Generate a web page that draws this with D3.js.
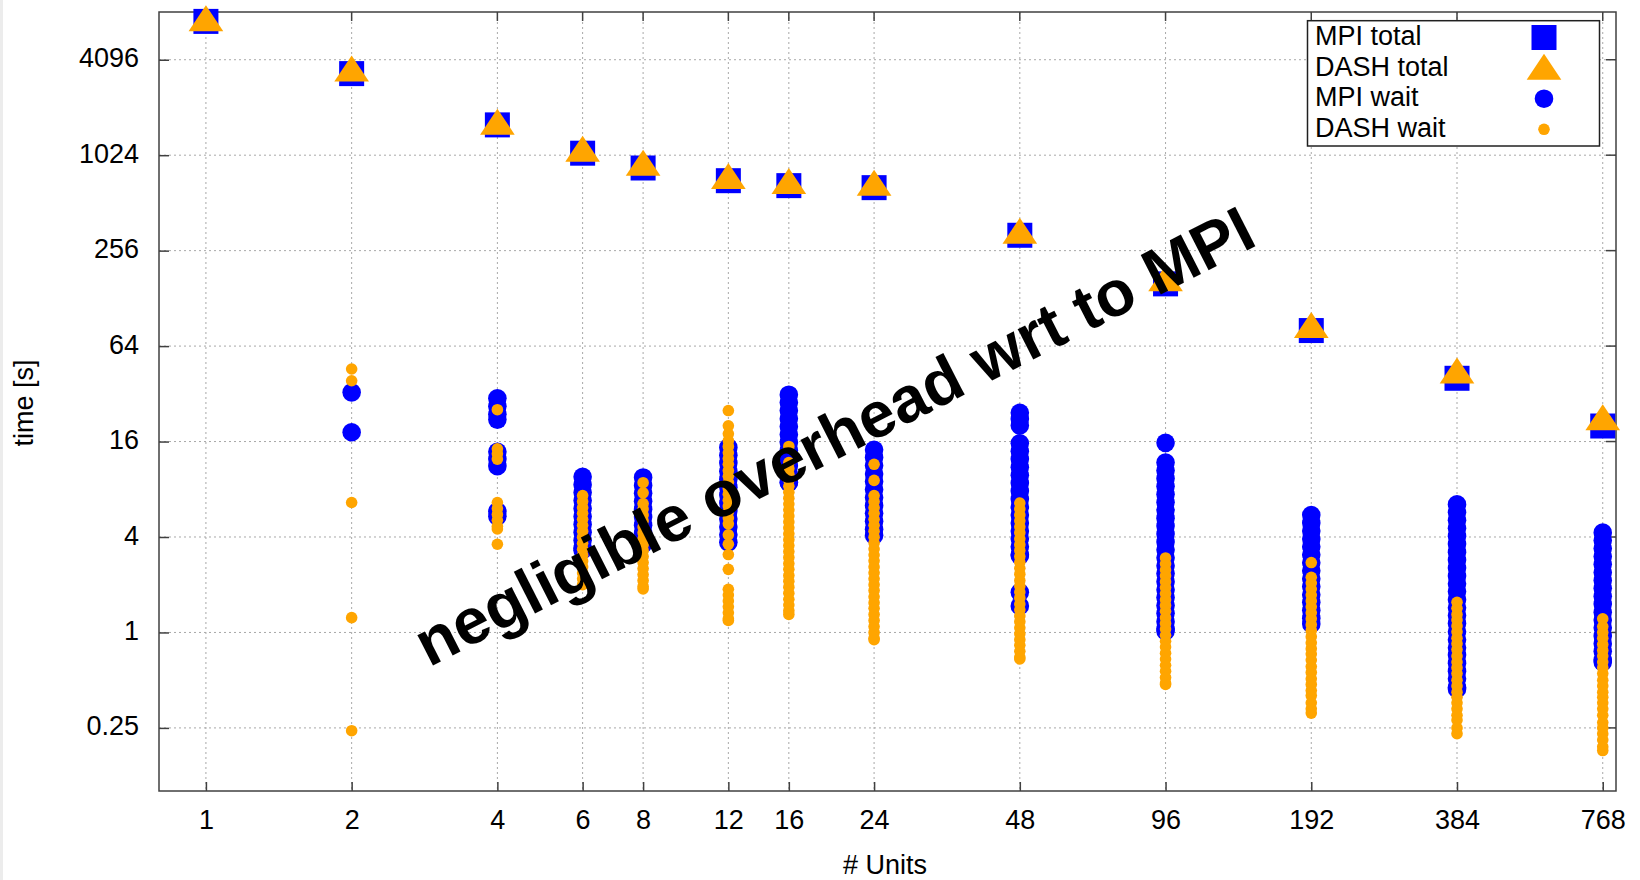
<!DOCTYPE html>
<html>
<head>
<meta charset="utf-8">
<script src="https://cdn.jsdelivr.net/npm/d3@7"></script>
<style>
  html, body { margin: 0; padding: 0; background: #fff; }
  svg { display: block; font-family: "Liberation Sans", Arial, sans-serif; }
</style>
</head>
<body>
<script>
// ---------------- data ----------------
const units = [1, 2, 4, 6, 8, 12, 16, 24, 48, 96, 192, 384, 768];
const xTickLabels = ["1", "2", "4", "6", "8", "12", "16", "24", "48", "96", "192", "384", "768"];
const yTicks = [0.25, 1, 4, 16, 64, 256, 1024, 4096];
const yTickLabels = ["0.25", "1", "4", "16", "64", "256", "1024", "4096"];

const mpiTotal  = [7147, 3348, 1590, 1054, 850, 707, 658, 639, 320, 158, 80.2, 40.1, 20.05];
const dashTotal = [7024, 3381, 1565, 1057, 863, 711, 661, 645, 321, 161, 81.6, 42.2, 21.4];

// wait times of the individual units (one list per unit count)
const mpiWait = [
  [],
  [32.7, 18.3],
  [30, 26.7, 23.8, 22, 13.8, 12.4, 11.2, 5.8, 5.4],
  [9.6, 8.55, 7.62, 6.79, 6.05, 5.39, 4.8, 4.28, 3.81, 3.4, 3.3],
  [9.5, 8.46, 7.54, 6.72, 5.99, 5.34, 4.75, 4.24, 3.77, 3.6],
  [14.7, 13.1, 11.7, 10.4, 9.26, 8.25, 7.35, 6.55, 5.84, 5.2, 4.63, 4.13, 3.7],
  [31.6, 28.2, 25.1, 22.3, 19.9, 17.7, 15.8, 14.1, 12.5, 11.2, 9.95, 8.87, 8.8],
  [14.2, 12.7, 11.3, 10.0, 8.94, 7.97, 7.1, 6.33, 5.64, 5.02, 4.47, 4.1],
  [24.3, 22.2, 20.2, 15.6, 13.9, 12.4, 11.0, 9.8, 8.75, 7.8, 6.95, 6.19, 5.51, 4.91, 4.37, 3.9, 3.47, 3.1, 3.05, 1.79, 1.47],
  [15.7, 11.8, 10.5, 9.37, 8.35, 7.44, 6.63, 5.91, 5.26, 4.69, 4.18, 3.72, 3.32, 2.96, 2.63, 2.35, 2.09, 1.86, 1.66, 1.48, 1.32, 1.17, 1.05, 1.02],
  [5.5, 4.9, 4.37, 3.89, 3.47, 3.09, 2.75, 2.45, 2.18, 1.95, 1.73, 1.55, 1.38, 1.23, 1.13],
  [6.42, 5.72, 5.1, 4.54, 4.05, 3.61, 3.21, 2.86, 2.55, 2.27, 2.03, 1.81, 1.61, 1.43, 1.28, 1.14, 1.01, 0.9, 0.8, 0.72, 0.64, 0.57, 0.51, 0.45, 0.44],
  [4.26, 3.8, 3.38, 3.01, 2.69, 2.39, 2.13, 1.9, 1.69, 1.51, 1.34, 1.2, 1.07, 0.95, 0.85, 0.76, 0.67, 0.65]
];
const dashWait = [
  [],
  [45.9, 38.7, 6.6, 1.24, 0.24],
  [25.4, 14.4, 13.4, 12.4, 6.6, 6.05, 5.55, 5.1, 4.68, 4.5, 3.6],
  [7.3, 6.7, 6.14, 5.64, 5.17, 4.74, 4.35, 3.99, 3.65, 3.35, 3.07, 2.82, 2.59, 2.37, 2.18, 2.0],
  [8.8, 7.6, 6.5, 6.0, 5.5, 5.05, 4.63, 4.25, 3.9, 3.58, 3.28, 3.01, 2.76, 2.53, 2.32, 2.13, 1.95, 1.88],
  [25.1, 20.1, 17.9, 16.2, 14.9, 13.6, 12.5, 11.5, 10.5, 9.65, 8.85, 8.1, 7.45, 6.83, 6.27, 5.75, 5.27, 4.84,
   4.13, 3.6, 3.1, 2.5, 1.87, 1.72, 1.58, 1.45, 1.33, 1.22, 1.19],
  [14.9, 11.8, 10.8, 9.93, 9.11, 8.36, 7.67, 7.03, 6.45, 5.92, 5.43, 4.98, 4.57, 4.19, 3.85, 3.53, 3.24, 2.97, 2.72,
   2.5, 2.29, 2.1, 1.93, 1.77, 1.62, 1.49, 1.37, 1.3],
  [11.5, 9.1, 7.3, 6.7, 6.14, 5.64, 5.17, 4.74, 4.35, 3.99, 3.66, 3.36, 3.08, 2.83, 2.59, 2.38, 2.18, 2.0, 1.84,
   1.68, 1.54, 1.42, 1.3, 1.19, 1.09, 1.0, 0.92, 0.9],
  [6.55, 6.01, 5.51, 5.06, 4.64, 4.26, 3.9, 3.58, 3.29, 3.01, 2.77, 2.54, 2.33, 2.13, 1.96, 1.8, 1.65, 1.51, 1.39,
   1.27, 1.17, 1.07, 0.98, 0.9, 0.83, 0.76, 0.7, 0.68],
  [2.95, 2.71, 2.48, 2.28, 2.09, 1.92, 1.76, 1.61, 1.48, 1.36, 1.24, 1.14, 1.05, 0.96, 0.88, 0.81, 0.74, 0.68,
   0.62, 0.57, 0.52, 0.48, 0.47],
  [2.76, 2.23, 2.05, 1.88, 1.72, 1.58, 1.45, 1.33, 1.22, 1.12, 1.03, 0.94, 0.86, 0.79, 0.73, 0.67, 0.61, 0.56,
   0.51, 0.47, 0.43, 0.4, 0.36, 0.33, 0.31],
  [1.55, 1.42, 1.3, 1.2, 1.1, 1.01, 0.92, 0.85, 0.78, 0.71, 0.65, 0.6, 0.55, 0.5, 0.46, 0.42, 0.39, 0.36, 0.33,
   0.3, 0.28, 0.25, 0.23],
  [1.22, 1.09, 1.0, 0.92, 0.84, 0.77, 0.71, 0.65, 0.6, 0.55, 0.5, 0.46, 0.42, 0.39, 0.36, 0.33, 0.3, 0.27, 0.25,
   0.23, 0.21, 0.19, 0.18]
];

const seriesNames = ["MPI total", "DASH total", "MPI wait", "DASH wait"];
const BLUE = "#0000ff", ORANGE = "#ffa500";

// ---------------- layout ----------------
const W = 1640, H = 880;
const L = 159, R = 1616, T = 12, B = 791;

const svg = d3.select("body").append("svg").attr("width", W).attr("height", H);
svg.append("rect").attr("width", W).attr("height", H).attr("fill", "#fff");
svg.append("rect").attr("x", 0).attr("y", 0).attr("width", 3).attr("height", H).attr("fill", "#ececec");

const x = d3.scaleLog().base(2).domain([0.8, 818]).range([L, R]);
const y = d3.scaleLog().base(2).domain([0.1, 8192]).range([B, T]);

// grid
const grid = svg.append("g").attr("stroke", "#a8a8a8").attr("stroke-width", 1).attr("stroke-dasharray", "2,3");
grid.selectAll("line.gx").data(units).join("line")
  .attr("x1", d => x(d)).attr("x2", d => x(d)).attr("y1", T).attr("y2", B);
grid.selectAll("line.gy").data(yTicks).join("line")
  .attr("x1", L).attr("x2", R).attr("y1", d => y(d)).attr("y2", d => y(d));

// axes
const fontSize = 27;
const xAxis = d3.axisBottom(x).tickValues(units).tickFormat((d, i) => xTickLabels[i]).tickSize(-9).tickPadding(19);
const gx = svg.append("g").attr("transform", `translate(0,${B})`).call(xAxis);
const yAxis = d3.axisLeft(y).tickValues(yTicks).tickFormat((d, i) => yTickLabels[i]).tickSize(-10).tickPadding(20);
const gy = svg.append("g").attr("transform", `translate(${L},0)`).call(yAxis);
[gx, gy].forEach(g => {
  g.select(".domain").remove();
  g.selectAll(".tick line").attr("stroke", "#404040").attr("stroke-width", 1.5);
  g.selectAll(".tick text").attr("fill", "#000").style("font-size", fontSize + "px")
    .style("font-family", "'Liberation Sans', Arial, sans-serif");
});
gy.selectAll(".tick text").attr("dy", "0.26em");

// mirror ticks
const mirror = svg.append("g").attr("stroke", "#404040").attr("stroke-width", 1.5);
mirror.selectAll("line.tx").data(units).join("line")
  .attr("x1", d => x(d)).attr("x2", d => x(d)).attr("y1", T).attr("y2", T + 9);
mirror.selectAll("line.ty").data(yTicks).join("line")
  .attr("x1", R).attr("x2", R - 10).attr("y1", d => y(d)).attr("y2", d => y(d));

// border
svg.append("rect").attr("x", L).attr("y", T).attr("width", R - L).attr("height", B - T)
  .attr("fill", "none").attr("stroke", "#404040").attr("stroke-width", 1.5);

// axis titles
svg.append("text").attr("x", 885).attr("y", 874).attr("text-anchor", "middle")
  .style("font-size", fontSize + "px").text("# Units");
svg.append("text").attr("transform", "translate(33,403) rotate(-90)").attr("text-anchor", "middle")
  .style("font-size", fontSize + "px").text("time [s]");

// markers
const SQ = 12.5, TS = 13;
const triPath = `M0,${-1.333 * TS}L${-1.333 * TS},${0.667 * TS}L${1.333 * TS},${0.667 * TS}Z`;

svg.append("g").selectAll("rect").data(units).join("rect")
  .attr("x", d => x(d) - SQ).attr("y", (d, i) => y(mpiTotal[i]) - SQ)
  .attr("width", 2 * SQ).attr("height", 2 * SQ).attr("fill", BLUE);

svg.append("g").selectAll("path").data(units).join("path")
  .attr("d", triPath)
  .attr("transform", (d, i) => `translate(${x(d)},${y(dashTotal[i])})`)
  .attr("fill", ORANGE);

const flat = (arr) => units.flatMap((u, i) => arr[i].map(v => ({ u, v })));

svg.append("g").selectAll("circle").data(flat(mpiWait)).join("circle")
  .attr("cx", d => x(d.u)).attr("cy", d => y(d.v)).attr("r", 9.3).attr("fill", BLUE);

svg.append("g").selectAll("circle").data(flat(dashWait)).join("circle")
  .attr("cx", d => x(d.u)).attr("cy", d => y(d.v)).attr("r", 5.8).attr("fill", ORANGE);

// legend
const lg = svg.append("g");
lg.append("rect").attr("x", 1307.5).attr("y", 20.7).attr("width", 292).attr("height", 125.3)
  .attr("fill", "#fff").attr("stroke", "#202020").attr("stroke-width", 1.5);
const rowY = i => 37.5 + i * 30.6;
const keyX = 1544;
lg.selectAll("text").data(seriesNames).join("text")
  .attr("x", 1315).attr("y", (d, i) => rowY(i) + 7.5)
  .style("font-size", fontSize + "px").text(d => d);
lg.append("rect").attr("x", keyX - SQ).attr("y", rowY(0) - SQ).attr("width", 2 * SQ).attr("height", 2 * SQ).attr("fill", BLUE);
lg.append("path").attr("d", triPath).attr("transform", `translate(${keyX},${rowY(1) + 3})`).attr("fill", ORANGE);
lg.append("circle").attr("cx", keyX).attr("cy", rowY(2)).attr("r", 9.3).attr("fill", BLUE);
lg.append("circle").attr("cx", keyX).attr("cy", rowY(3)).attr("r", 5.8).attr("fill", ORANGE);

// annotation
svg.append("text").attr("transform", "translate(844,456) rotate(-27)").attr("text-anchor", "middle")
  .style("font-size", "64.5px").style("font-weight", "bold").attr("fill", "#000")
  .text("negligible overhead wrt to MPI");
</script>
</body>
</html>
